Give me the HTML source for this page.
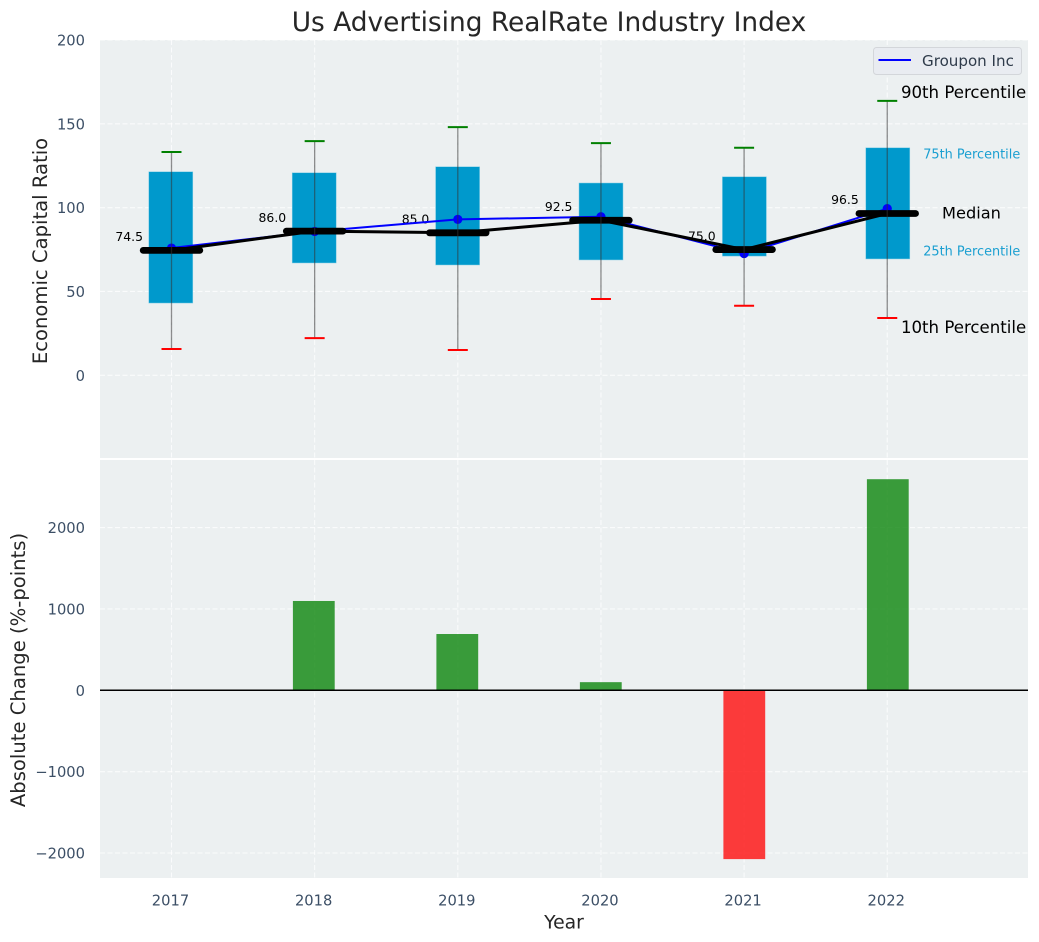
<!DOCTYPE html>
<html lang="en">
<head>
<meta charset="utf-8">
<title>Us Advertising RealRate Industry Index</title>
<style>
html,body{margin:0;padding:0;background:#fff;width:1039px;height:942px;overflow:hidden}
svg{display:block;font-family:"DejaVu Sans","Liberation Sans",sans-serif}
</style>
</head>
<body>
<svg id="chart" xmlns="http://www.w3.org/2000/svg" width="1039" height="942" viewBox="0 0 1039 942"></svg>
<script>
const years = [2017, 2018, 2019, 2020, 2021, 2022];
const p10 = [15.7, 22.2, 15.1, 45.5, 41.5, 34.2];
const p25 = [43.1, 67.0, 65.8, 68.8, 71.1, 69.4];
const medians = [74.5, 86.0, 85.0, 92.5, 75.0, 96.5];
const p75 = [121.4, 120.8, 124.4, 114.7, 118.4, 135.7];
const p90 = [133.2, 139.7, 148.0, 138.5, 135.7, 163.7];
const companyValues = [75.9, 85.8, 93.0, 94.6, 72.6, 99.4];
const absoluteChange = [0, 1098, 692, 100, -2075, 2595];
const upperTicks = [0, 50, 100, 150, 200];
const lowerTicks = [-2000, -1000, 0, 1000, 2000];
const lowerTickLabels = ["\u22122000", "\u22121000", "0", "1000", "2000"];
const companyName = "Groupon Inc";

const NS = "http://www.w3.org/2000/svg";
const svg = document.getElementById("chart");
const PL = 100, PR = 1028, UT = 40, UB = 458, LT = 460, LB = 878;
const X = v => 171.5 + (v - 2017) * 143.15;
const XBOX = v => 314.2 + (v - 2018) * 143.4;
const XBAR = v => 313.8 + (v - 2018) * 143.5;
const YU = v => 375.3 - v * 1.6765;
const YL = v => 690.3 - v * 0.08135;

function mk(tag, attrs, parent, text) {
  const el = document.createElementNS(NS, tag);
  for (const k in attrs) el.setAttribute(k, attrs[k]);
  if (text !== undefined) el.textContent = text;
  (parent || svg).appendChild(el);
  return el;
}
function group(name) {
  const g = mk("g", {});
  
  
  return g;
}
const TICK = "#3c4f66", DARK = "#262626";

// panels
const gPanels = group("plot-panels");
const upperPanel = mk("rect", {x: PL, y: UT, width: PR - PL, height: UB - UT, fill: "#ecf0f1"}, gPanels);


const lowerPanel = mk("rect", {x: PL, y: LT, width: PR - PL, height: LB - LT, fill: "#ecf0f1"}, gPanels);



// grid
const gGrid = group("grid-lines");
const gridStyle = {stroke: "#ffffff", "stroke-width": 1.1, "stroke-dasharray": "5 2.5", "stroke-opacity": 0.75};
years.forEach(y => {
  [[UT, UB], [LT, LB]].forEach(r => {
    const l = mk("line", Object.assign({x1: X(y), x2: X(y), y1: r[0], y2: r[1]}, gridStyle), gGrid);
    
    
  });
});
upperTicks.forEach(t => {
  const l = mk("line", Object.assign({x1: PL, x2: PR, y1: YU(t), y2: YU(t)}, gridStyle), gGrid);
  
  
});
lowerTicks.forEach(t => {
  const l = mk("line", Object.assign({x1: PL, x2: PR, y1: YL(t), y2: YL(t)}, gridStyle), gGrid);
  
  
});

// boxes
const gBoxes = group("percentile-boxes");
const BOXW = 44;
years.forEach((y, i) => {
  const r = mk("rect", {x: XBOX(y) - BOXW / 2, y: YU(p75[i]), width: BOXW, height: YU(p25[i]) - YU(p75[i]), fill: "#0099cc", stroke: "#7fcce5", "stroke-width": 0.5}, gBoxes);
  
  
});

// median value labels
const gLabels = group("median-value-labels");
years.forEach((y, i) => {
  const t = mk("text", {x: X(y) - 28.5, y: YU(medians[i]) - 9.3, "text-anchor": "end", "font-size": 12.4, fill: "#000"}, gLabels, medians[i].toFixed(1));
  
  
});

// company series
const gCompany = group("company-series");
const companyLine = mk("polyline", {points: years.map((y, i) => X(y) + "," + YU(companyValues[i])).join(" "), fill: "none", stroke: "#0000ff", "stroke-width": 2}, gCompany);


years.forEach((y, i) => {
  const c = mk("circle", {cx: X(y), cy: YU(companyValues[i]), r: 4.6, fill: "#0000ff"}, gCompany);
  
  
});

// medians
const gMedians = group("median-series");
const medianLine = mk("polyline", {points: years.map((y, i) => X(y) + "," + YU(medians[i])).join(" "), fill: "none", stroke: "#000", "stroke-width": 3}, gMedians);


years.forEach((y, i) => {
  const l = mk("line", {x1: X(y) - 28.3, x2: X(y) + 28.3, y1: YU(medians[i]), y2: YU(medians[i]), stroke: "#000", "stroke-width": 6.8, "stroke-linecap": "round"}, gMedians);
  
  
});

// whiskers
const gWhiskers = group("whiskers");
years.forEach((y, i) => {
  const w = mk("line", {x1: X(y), x2: X(y), y1: YU(p90[i]), y2: YU(p10[i]), stroke: "#333", "stroke-opacity": 0.55, "stroke-width": 1.3}, gWhiskers);
  
  
  const hi = mk("line", {x1: X(y) - 10, x2: X(y) + 10, y1: YU(p90[i]), y2: YU(p90[i]), stroke: "#008000", "stroke-width": 2}, gWhiskers);
  
  
  const lo = mk("line", {x1: X(y) - 10, x2: X(y) + 10, y1: YU(p10[i]), y2: YU(p10[i]), stroke: "#ff0000", "stroke-width": 2}, gWhiskers);
  
  
});

// percentile annotations attached to the last year
const gNotes = group("percentile-annotations");
const last = years.length - 1, lx = X(years[last]);
const n90 = mk("text", {x: lx + 13.7, y: YU(p90[last]) - 2.8, "font-size": 16.6, fill: "#000"}, gNotes, "90th Percentile");


const n75 = mk("text", {x: lx + 36, y: YU(p75[last]) + 10.6, "font-size": 12.85, fill: "#1a9fd1"}, gNotes, "75th Percentile");


const nMed = mk("text", {x: lx + 54.8, y: YU(medians[last]) + 5, "font-size": 16.2, fill: "#000"}, gNotes, "Median");


const n25 = mk("text", {x: lx + 36, y: YU(p25[last]) - 3.6, "font-size": 12.85, fill: "#1a9fd1"}, gNotes, "25th Percentile");


const n10 = mk("text", {x: lx + 13.7, y: YU(p10[last]) + 14.8, "font-size": 16.6, fill: "#000"}, gNotes, "10th Percentile");



// change bars
const gBars = group("absolute-change-bars");
const BARW = 41.8;
years.forEach((y, i) => {
  const v = absoluteChange[i];
  if (v === 0) return;
  const top = Math.min(YL(v), YL(0)), h = Math.abs(YL(v) - YL(0));
  const b = mk("rect", {x: XBAR(y) - BARW / 2, y: top, width: BARW, height: h, fill: v > 0 ? "#008000" : "#ff0000", "fill-opacity": 0.76}, gBars);
  
  
});
const zeroLine = mk("line", {x1: PL, x2: PR, y1: YL(0), y2: YL(0), stroke: "#000", "stroke-width": 1.5});



// ticks
const gTicks = group("tick-labels");
upperTicks.forEach(t => {
  const e = mk("text", {x: 85, y: YU(t) + 5.5, "text-anchor": "end", "font-size": 14.7, fill: TICK}, gTicks, String(t));
  
  
});
lowerTicks.forEach((t, i) => {
  const e = mk("text", {x: 85, y: YL(t) + 5.5, "text-anchor": "end", "font-size": 14.7, fill: TICK}, gTicks, lowerTickLabels[i]);
  
  
});
years.forEach(y => {
  const e = mk("text", {x: X(y) - 1, y: 905.3, "text-anchor": "middle", "font-size": 14.7, fill: TICK}, gTicks, String(y));
  
  
});

// titles
const title = mk("text", {x: 549, y: 31, "text-anchor": "middle", "font-size": 26.4, fill: DARK}, svg, "Us Advertising RealRate Industry Index");


const yTop = mk("text", {x: 47, y: 251, transform: "rotate(-90 47 251)", "text-anchor": "middle", "font-size": 19.6, fill: DARK}, svg, "Economic Capital Ratio");


const yBot = mk("text", {x: 25, y: 670, transform: "rotate(-90 25 670)", "text-anchor": "middle", "font-size": 19.6, fill: DARK}, svg, "Absolute Change (%-points)");


const xTitle = mk("text", {x: 564, y: 928.7, "text-anchor": "middle", "font-size": 18.8, fill: DARK}, svg, "Year");



// legend
const gLegend = group("legend");
const legendBox = mk("rect", {x: 873.5, y: 47.5, width: 148, height: 27, rx: 3, fill: "#e9ecf1", stroke: "#d3d6da", "stroke-width": 1}, gLegend);


const legendLine = mk("line", {x1: 878.5, x2: 911, y1: 60, y2: 60, stroke: "#0000ff", "stroke-width": 2}, gLegend);


const legendText = mk("text", {x: 922, y: 66, "font-size": 15.1, fill: "#2f3b4a"}, gLegend, companyName);


</script>
</body>
</html>
